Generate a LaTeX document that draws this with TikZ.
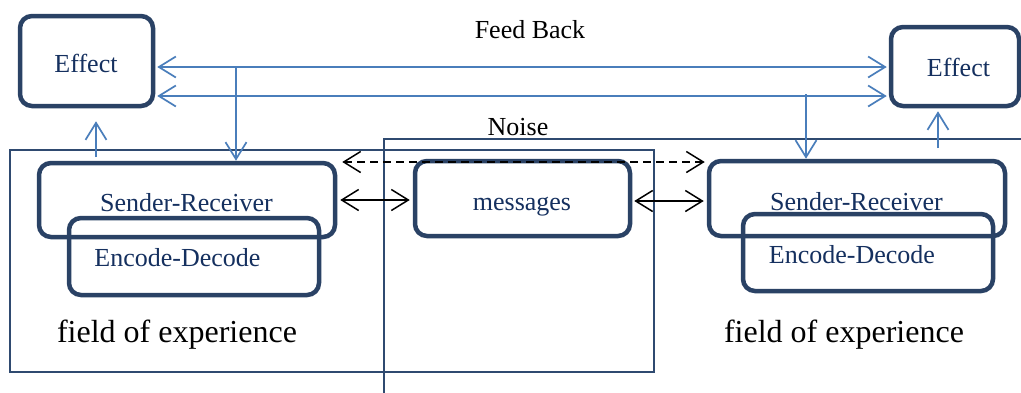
\documentclass[tikz,border=0pt]{standalone}
\usepackage{fontspec}
\setmainfont{Liberation Serif}
\usetikzlibrary{arrows.meta}
\definecolor{boxcol}{HTML}{2A4265}
\definecolor{txtblue}{HTML}{15305F}
\definecolor{arrblue}{HTML}{4A7EBB}
\definecolor{framecol}{HTML}{2F4A70}
\begin{document}
\begin{tikzpicture}[x=1pt,y=-1pt,
  bigbox/.style={draw=boxcol, line width=4.5pt, rounded corners=12pt, inner sep=0pt},
  frame/.style={draw=framecol, line width=1.6pt},
  btxt/.style={text=txtblue, font=\fontsize{26}{30}\selectfont, anchor=base, inner sep=0pt},
  ktxt/.style={text=black, font=\fontsize{26}{30}\selectfont, anchor=base, inner sep=0pt},
  ftxt/.style={text=black, font=\fontsize{32}{36}\selectfont, anchor=base, inner sep=0pt},
  tipb/.tip={Straight Barb[length=17pt,width=21pt]},
  blueline/.style={draw=arrblue, line width=1.7pt},
  blackline/.style={draw=black, line width=1.5pt},
]
\useasboundingbox (0,0) rectangle (1021,392);
\clip (0,0) rectangle (1021,392);
\fill[white] (0,0) rectangle (1021,392);

% frames
\draw[frame] (10,150) rectangle (654,372);
\draw[frame] (384,400) -- (384,139) -- (1030,139);

% boxes
\node[bigbox, minimum width=133pt, minimum height=90pt] (effL) at (86.5,61) {};
\node[bigbox, minimum width=128pt, minimum height=79pt] (effR) at (955,66.5) {};
\node[bigbox, minimum width=296pt, minimum height=74pt] (srL) at (187,200) {};
\node[bigbox, minimum width=250pt, minimum height=77pt] (edL) at (194,256.5) {};
\node[bigbox, minimum width=215pt, minimum height=75pt] (msg) at (522.5,198.5) {};
\node[bigbox, minimum width=296pt, minimum height=75pt] (srR) at (857,198.5) {};
\node[bigbox, minimum width=250pt, minimum height=77pt] (edR) at (868,252.5) {};

% texts
\node[btxt] (tEffL) at (86,72) {Effect};
\node[btxt] (tEffR) at (958.5,76) {Effect};
\node[ktxt] (tFB) at (530,38) {Feed Back};
\node[ktxt] (tNoise) at (518,135) {Noise};
\node[btxt] (tSrL) at (186.5,211) {Sender-Receiver};
\node[btxt] (tEdL) at (177.5,266) {Encode-Decode};
\node[btxt] (tMsg) at (522,210) {messages};
\node[btxt] (tSrR) at (856.5,210) {Sender-Receiver};
\node[btxt] (tEdR) at (852,263) {Encode-Decode};
\node[ftxt] (tFL) at (177,342) {field of experience};
\node[ftxt] (tFR) at (844,342) {field of experience};

% feedback arrows
\draw[blueline, tipb-tipb, shorten <=2pt, shorten >=2pt] (effL.east |- 0,67) -- (effR.west |- 0,67);
\draw[blueline, tipb-tipb, shorten <=2pt, shorten >=2pt] (effL.east |- 0,96) -- (effR.west |- 0,96);
\coordinate (fbL) at (236,66);
\coordinate (fbR) at (806,94);
\draw[blueline, -tipb] (fbL) -- (srL.north -| fbL);
\draw[blueline, -tipb] (fbR) -- (srR.north -| fbR);
\coordinate (upL) at (96,157);
\coordinate (upR) at (938,148);
\draw[blueline, -tipb, shorten >=13pt] (upL) -- (effL.south -| upL);
\draw[blueline, -tipb, shorten >=3pt] (upR) -- (effR.south -| upR);

% message arrows
\draw[blackline, dash pattern=on 8pt off 5pt, tipb-tipb, shorten <=5pt, shorten >=2pt] (srL.east |- 0,162) -- (srR.west |- 0,162);
\draw[blackline, tipb-tipb, shorten <=3pt, shorten >=3pt] (srL.east |- 0,200) -- (msg.west |- 0,200);
\draw[blackline, tipb-tipb, shorten <=2pt, shorten >=3pt] (msg.east |- 0,201) -- (srR.west |- 0,201);
\end{tikzpicture}
\end{document}
